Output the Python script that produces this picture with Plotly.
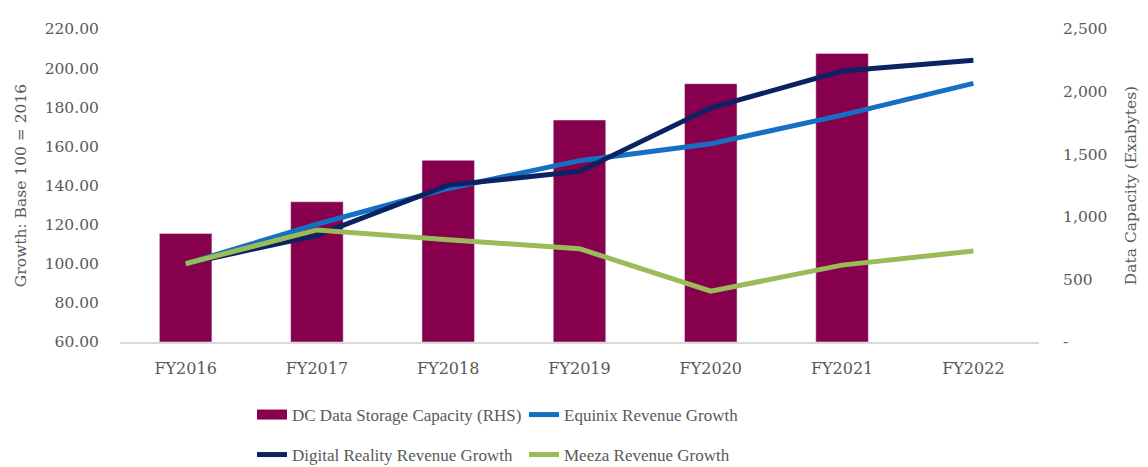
import plotly.graph_objects as go

categories = ["FY2016", "FY2017", "FY2018", "FY2019", "FY2020", "FY2021", "FY2022"]
capacity = [867, 1120, 1451, 1773, 2063, 2305, None]
equinix = [100.0, 120.2, 138.5, 152.7, 161.3, 176.0, 192.2]
digital_realty = [100.0, 114.5, 140.2, 147.2, 179.7, 198.5, 204.0]
meeza = [100.0, 117.3, 112.3, 107.7, 86.0, 99.3, 106.5]

left_ticks = [60, 80, 100, 120, 140, 160, 180, 200, 220]
left_labels = [f"{v:.2f}" for v in left_ticks]
right_ticks = [0, 500, 1000, 1500, 2000, 2500]
right_labels = ["-", "500", "1,000", "1,500", "2,000", "2,500"]

MAROON = "#86004E"
BLUE = "#1570C4"
NAVY = "#0B2263"
GREEN = "#9BBB59"
TXT = "#595959"
FONT = "DejaVu Serif"
LFONT = "Liberation Serif"

# page body has an 8px default margin, so the figure is 8px smaller
W, H = 1140, 459

fig = go.Figure()
fig.add_trace(go.Bar(x=categories, y=capacity, marker_color=MAROON, width=0.4,
                     yaxis="y", showlegend=False, name="DC Data Storage Capacity (RHS)"))
# legend-only swatch for the bars
fig.add_trace(go.Scatter(x=[None], y=[None], mode="lines", yaxis="y2",
                         line=dict(color=MAROON, width=10),
                         name="DC Data Storage Capacity (RHS)", legend="legend"))
fig.add_trace(go.Scatter(x=categories, y=equinix, mode="lines", yaxis="y2",
                         line=dict(color=BLUE, width=5), name="Equinix Revenue Growth",
                         legend="legend"))
fig.add_trace(go.Scatter(x=categories, y=digital_realty, mode="lines", yaxis="y2",
                         line=dict(color=NAVY, width=5), name="Digital Reality Revenue Growth",
                         legend="legend2"))
fig.add_trace(go.Scatter(x=categories, y=meeza, mode="lines", yaxis="y2",
                         line=dict(color=GREEN, width=5), name="Meeza Revenue Growth",
                         legend="legend2"))

leg_common = dict(orientation="h", xref="container", yref="container", xanchor="left",
                  yanchor="middle", font=dict(family=LFONT, size=17, color=TXT),
                  entrywidth=227, entrywidthmode="pixels", bgcolor="rgba(0,0,0,0)",
                  itemclick=False)

fig.update_layout(
    width=W, height=H,
    margin=dict(l=112, r=108, t=13, b=125),
    paper_bgcolor="white", plot_bgcolor="white",
    font=dict(family=FONT, size=16, color=TXT),
    xaxis=dict(type="category", showgrid=False, showline=True, linecolor="#D9D9D9",
               linewidth=2, ticks="outside", ticklen=11, tickcolor="rgba(0,0,0,0)",
               tickfont=dict(family=FONT, size=16, color=TXT)),
    yaxis=dict(side="right", range=[0, 2500], tickvals=right_ticks, ticktext=right_labels,
               showgrid=False, zeroline=False, showline=False,
               ticks="outside", ticklen=20, tickcolor="rgba(0,0,0,0)",
               tickfont=dict(family=FONT, size=15.5, color=TXT),
               title=dict(text="Data Capacity (Exabytes)", standoff=18,
                          font=dict(family=FONT, size=15.5, color=TXT))),
    yaxis2=dict(side="left", overlaying="y", range=[60, 220], tickvals=left_ticks,
                ticktext=left_labels, showgrid=False, zeroline=False, showline=False,
                ticks="outside", ticklen=17, tickcolor="rgba(0,0,0,0)",
                tickfont=dict(family=FONT, size=15.5, color=TXT),
                title=dict(text="Growth: Base 100 = 2016", standoff=14,
                           font=dict(family=FONT, size=15.5, color=TXT))),
    legend=dict(x=244 / W, y=1 - 407 / H, **leg_common),
    legend2=dict(x=244 / W, y=1 - 447 / H, **leg_common),
)

fig.write_html("out.html")
